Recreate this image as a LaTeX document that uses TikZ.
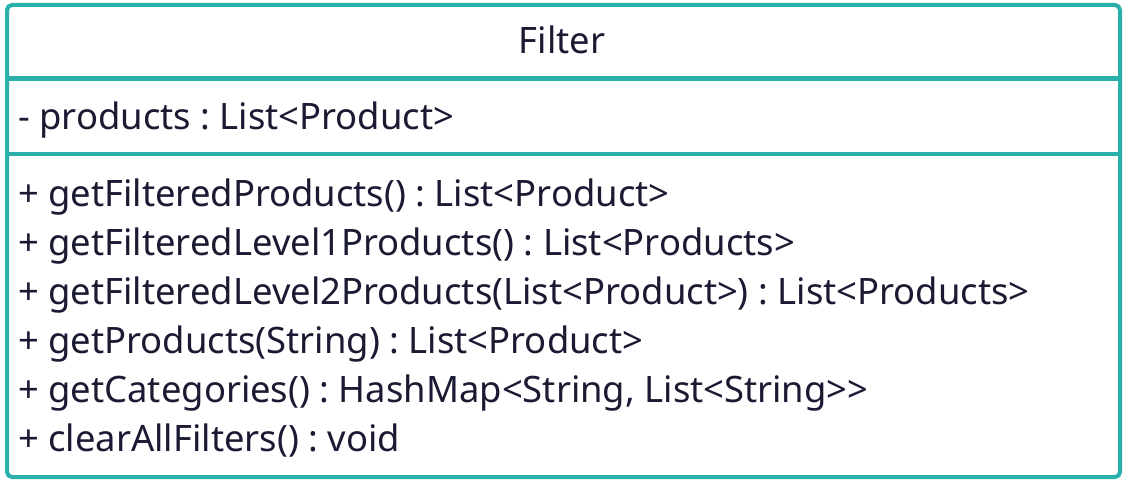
\documentclass[tikz,border=0pt]{standalone}
\usepackage{fontspec}
\setmainfont{Noto Sans}
\definecolor{umlborder}{HTML}{29B0AB}
\definecolor{umltext}{HTML}{1A1A33}
\begin{document}
\frenchspacing
\begin{tikzpicture}[x=1pt,y=-1pt,
  member/.style={anchor=base west, inner sep=0pt, text=umltext, font=\fontsize{36.4}{40}\selectfont},
  title/.style={anchor=base, inner sep=0pt, text=umltext, font=\fontsize{36.4}{40}\selectfont},
  frame/.style={draw=umlborder, line width=4pt, rounded corners=5pt},
  sepline/.style={draw=umlborder, line width=4.5pt}]
\useasboundingbox (0,0) rectangle (1123,481);
\node[frame, minimum width=1113pt, minimum height=472pt, anchor=north west, inner sep=0pt] (box) at (5,3) {};
\coordinate (s1l) at (5,78.5);
\coordinate (s1r) at (1118,78.5);
\coordinate (s2l) at (5,154);
\coordinate (s2r) at (1118,154);
\draw[sepline] (s1l) -- (s1r);
\draw[sepline] (s2l) -- (s2r);
\node[title] (name) at (562,54) {Filter};
\node[member] (a1) at (18,130) {- products : List<Product>};
\node[member] (m1) at (18,206) {+ getFilteredProducts() : List<Product>};
\node[member] (m2) at (18,255) {+ getFilteredLevel1Products() : List<Products>};
\node[member] (m3) at (18,304) {+ getFilteredLevel2Products(List<Product>) : List<Products>};
\node[member] (m4) at (18,353) {+ getProducts(String) : List<Product>};
\node[member] (m5) at (18,402) {+ getCategories() : HashMap<String, List<String>{}>};
\node[member] (m6) at (18,451) {+ clearAllFilters() : void};
\end{tikzpicture}
\end{document}
